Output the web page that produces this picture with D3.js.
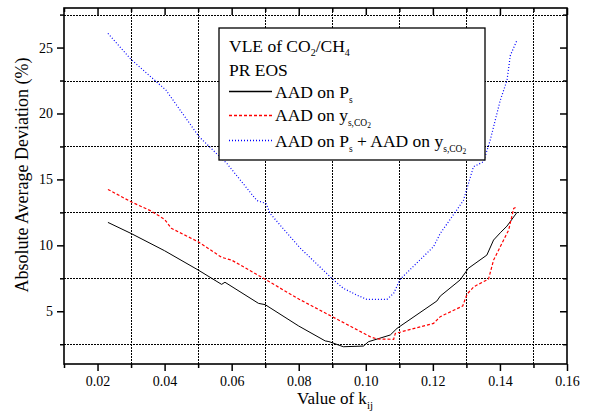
<!DOCTYPE html>
<html>
<head>
<meta charset="utf-8">
<script src="https://cdn.jsdelivr.net/npm/d3@7"></script>
<style>
  html, body { margin: 0; padding: 0; background: #fff; }
  svg { display: block; }
  svg text { font-family: "Liberation Serif", "Tinos", "Times New Roman", Times, "DejaVu Serif", serif; fill: #000; }
</style>
</head>
<body>
<svg id="chart" width="592" height="414"></svg>
<script>
// ---- data ----
const kPs = [0.0231, 0.030, 0.040, 0.050, 0.057, 0.058, 0.068, 0.070, 0.080, 0.0879, 0.089, 0.0933, 0.0993, 0.1008, 0.1073, 0.1093, 0.1212, 0.1222, 0.1281, 0.1306, 0.1361, 0.1381, 0.1401, 0.1421, 0.1451];
const aadPs = [11.74, 10.9, 9.59, 8.13, 7.04, 7.2, 5.6, 5.5, 3.88, 2.75, 2.7, 2.31, 2.36, 2.69, 3.2, 3.7, 5.78, 6.15, 7.37, 8.26, 9.26, 10.4, 10.95, 11.46, 12.5];

const kYs = [0.0231, 0.030, 0.036, 0.040, 0.042, 0.050, 0.057, 0.060, 0.070, 0.080, 0.090, 0.1013, 0.1033, 0.1083, 0.1088, 0.1202, 0.1222, 0.1289, 0.1302, 0.1322, 0.1366, 0.1381, 0.1411, 0.1426, 0.1441, 0.1451];
const aadYs = [14.24, 13.3, 12.6, 11.97, 11.29, 10.27, 9.09, 8.88, 7.42, 5.93, 4.59, 3.07, 2.9, 2.87, 3.32, 4.08, 4.59, 5.4, 6.3, 6.86, 7.44, 8.88, 10.4, 11.16, 12.8, 12.93];

const kSum = [0.0231, 0.030, 0.0404, 0.0503, 0.0586, 0.0675, 0.0702, 0.0715, 0.0804, 0.0901, 0.0933, 0.0973, 0.1003, 0.1063, 0.1083, 0.1103, 0.1202, 0.1222, 0.1291, 0.1321, 0.1351, 0.1371, 0.1401, 0.1421, 0.1431, 0.1451];
const aadSum = [26.07, 24.1, 21.77, 18.23, 16.2, 13.4, 13.18, 12.4, 9.8, 7.44, 6.74, 6.23, 5.9, 5.9, 6.36, 7.44, 9.9, 10.9, 13.4, 15.96, 16.34, 17.98, 21.0, 22.5, 24.4, 25.56];

const xMajorTicks = [0.02, 0.04, 0.06, 0.08, 0.10, 0.12, 0.14, 0.16];
const xMinorTicks = [0.01, 0.03, 0.05, 0.07, 0.09, 0.11, 0.13, 0.15];
const yMajorTicks = [5, 10, 15, 20, 25];
const yMinorTicks = [2.5, 7.5, 12.5, 17.5, 22.5, 27.5];

// ---- layout ----
const FONT = '"Liberation Serif", "Tinos", "Times New Roman", Times, "DejaVu Serif", serif';
const svg = d3.select("#chart");
const L = 64, R = 567, T = 8, B = 364;
const x = d3.scaleLinear().domain([0.01, 0.16]).range([L, R]);
const y = d3.scaleLinear().domain([1, 28]).range([B, T]);

// grid
const grid = svg.append("g").attr("stroke", "#000").attr("stroke-width", 1).attr("stroke-dasharray", "2,1");
grid.selectAll("line.v").data(xMinorTicks.slice(1)).enter().append("line")
  .attr("x1", d => Math.round(x(d)) + 0.5).attr("x2", d => Math.round(x(d)) + 0.5)
  .attr("y1", T).attr("y2", B);
grid.selectAll("line.h").data(yMinorTicks).enter().append("line")
  .attr("y1", d => Math.round(y(d)) + 0.5).attr("y2", d => Math.round(y(d)) + 0.5)
  .attr("x1", L).attr("x2", R);

// curves
const series = [
  { k: kPs, v: aadPs, color: "#000000", dash: null, width: 1 },
  { k: kYs, v: aadYs, color: "#ff0000", dash: "3,2", width: 1.2 },
  { k: kSum, v: aadSum, color: "#0000ff", dash: "1,2", width: 1.2 }
];
const line = d3.line().x(d => x(d[0])).y(d => y(d[1]));
series.forEach(s => {
  const pts = s.k.map((k, i) => [k, s.v[i]]);
  svg.append("path").datum(pts).attr("d", line)
    .attr("fill", "none").attr("stroke", s.color).attr("stroke-width", s.width)
    .attr("stroke-dasharray", s.dash);
});

// axes
function styleAxis(g) {
  g.attr("font-family", null).attr("font-size", null);
  g.select(".domain").remove();
  g.selectAll(".tick line").attr("stroke", "#000").attr("stroke-width", 1.5);
  g.selectAll(".tick text").style("font-size", "14px").style("font-family", FONT);
}
svg.append("g").attr("transform", `translate(0,${B})`)
  .call(d3.axisBottom(x).tickValues(xMajorTicks).tickFormat(d3.format(".2f")).tickSize(7).tickPadding(5))
  .call(styleAxis);
svg.append("g").attr("transform", `translate(0,${B})`)
  .call(d3.axisBottom(x).tickValues(xMinorTicks).tickFormat("").tickSize(4))
  .call(styleAxis);
svg.append("g").attr("transform", `translate(0,${T})`)
  .call(d3.axisTop(x).tickValues(xMajorTicks).tickFormat("").tickSize(-7))
  .call(styleAxis);
svg.append("g").attr("transform", `translate(0,${T})`)
  .call(d3.axisTop(x).tickValues(xMinorTicks).tickFormat("").tickSize(-4))
  .call(styleAxis);
svg.append("g").attr("transform", `translate(${L},0)`)
  .call(d3.axisLeft(y).tickValues(yMajorTicks).tickFormat(d3.format("d")).tickSize(7).tickPadding(4))
  .call(styleAxis);
svg.append("g").attr("transform", `translate(${L},0)`)
  .call(d3.axisLeft(y).tickValues(yMinorTicks).tickFormat("").tickSize(4))
  .call(styleAxis);
svg.append("g").attr("transform", `translate(${R},0)`)
  .call(d3.axisRight(y).tickValues(yMajorTicks).tickFormat("").tickSize(-7))
  .call(styleAxis);
svg.append("g").attr("transform", `translate(${R},0)`)
  .call(d3.axisRight(y).tickValues(yMinorTicks).tickFormat("").tickSize(-4))
  .call(styleAxis);

// frame
svg.append("rect").attr("x", L).attr("y", T).attr("width", R - L).attr("height", B - T)
  .attr("fill", "none").attr("stroke", "#000").attr("stroke-width", 1.6);

// axis titles
const xt = svg.append("text").attr("x", 297).attr("y", 404).attr("text-anchor", "start")
  .style("font-size", "17px").style("font-family", FONT);
xt.append("tspan").text("Value of k");
xt.append("tspan").attr("dy", 5).style("font-size", "11px").text("ij");

svg.append("text").attr("transform", "translate(28,175) rotate(-90)").attr("text-anchor", "middle")
  .style("font-size", "18px").style("font-family", FONT).text("Absolute Average Deviation (%)");

// legend
const lg = svg.append("g");
lg.append("rect").attr("x", 219).attr("y", 28).attr("width", 266).attr("height", 132)
  .attr("fill", "#fff").attr("stroke", "#000").attr("stroke-width", 1.3);

const t1 = lg.append("text").attr("x", 229).attr("y", 52).style("font-size", "17.5px").style("font-family", FONT);
t1.append("tspan").text("VLE of CO");
t1.append("tspan").attr("dy", 4).style("font-size", "10px").text("2");
t1.append("tspan").attr("dy", -4).text("/CH");
t1.append("tspan").attr("dy", 4).style("font-size", "10px").text("4");

lg.append("text").attr("x", 229).attr("y", 76).style("font-size", "17.5px").style("font-family", FONT).text("PR EOS");

const rows = [
  { s: series[0], yl: 91, yb: 98, parts: [["AAD on P", 0, 17.5], ["s", 5, 9.5]] },
  { s: series[1], yl: 115, yb: 121, parts: [["AAD on y", 0, 17.5], ["s,CO", 5, 9.5], ["2", 2, 7.5]] },
  { s: series[2], yl: 140, yb: 147, parts: [["AAD on P", 0, 17.5], ["s", 5, 9.5], [" + AAD on y", -5, 17.5], ["s,CO", 5, 9.5], ["2", 2, 7.5]] }
];
rows.forEach(r => {
  lg.append("line").attr("x1", 229).attr("x2", 272).attr("y1", r.yl + 0.5).attr("y2", r.yl + 0.5)
    .attr("stroke", r.s.color).attr("stroke-width", 1.3).attr("stroke-dasharray", r.s.dash);
  const t = lg.append("text").attr("x", 275).attr("y", r.yb).style("font-size", "17.5px").style("font-family", FONT);
  r.parts.forEach(p => {
    t.append("tspan").attr("dy", p[1]).style("font-size", p[2] + "px").text(p[0]);
  });
});
</script>
</body>
</html>
